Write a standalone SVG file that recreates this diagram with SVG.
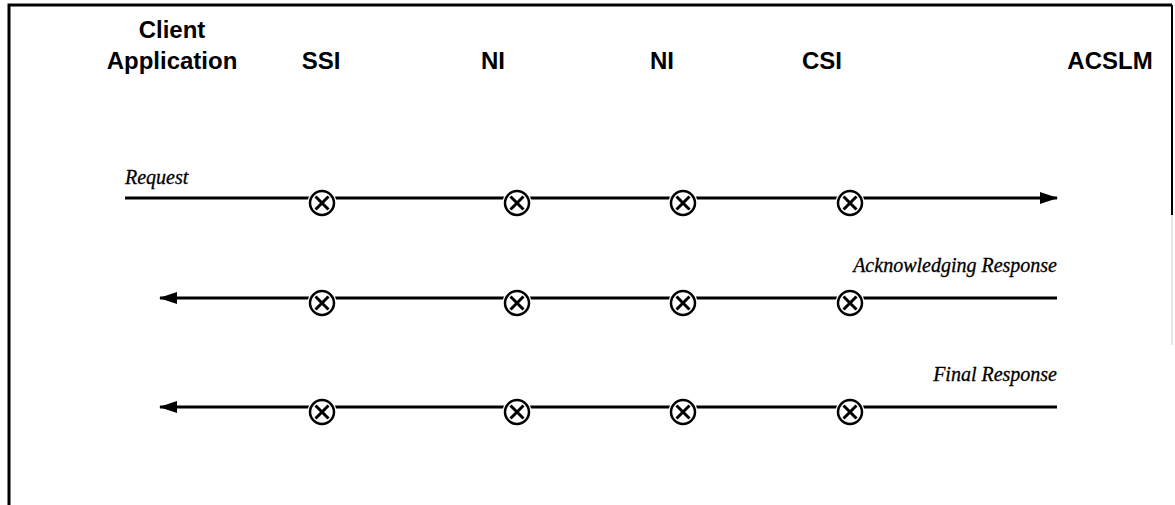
<svg xmlns="http://www.w3.org/2000/svg" width="1175" height="505" viewBox="0 0 1175 505">
<defs>
<style>
.hdr{font-family:"Liberation Sans",Arial,sans-serif;font-weight:bold;font-size:24px;fill:#000}
.lbl{font-family:"Liberation Serif","Times New Roman",serif;font-style:italic;font-size:20px;fill:#000;stroke:#000;stroke-width:0.3}
.ln{stroke:#000;stroke-width:3;fill:none}
.frame{stroke:#000;stroke-width:3;fill:none}
.xc{fill:#fff;stroke:#000;stroke-width:2.5}
.xx{stroke:#000;stroke-width:3;fill:none}
</style>
<marker id="ah" markerWidth="18" markerHeight="12" refX="17" refY="6" orient="auto" markerUnits="userSpaceOnUse">
<path d="M0,0 L18,6 L0,12 Z" fill="#000"/>
</marker>
<g id="x"><circle cx="0" cy="0" r="14.5" fill="#fff"/><circle class="xc" cx="0" cy="0" r="12"/><path class="xx" d="M-6.5,-6.5 L6.5,6.5 M-6.5,6.5 L6.5,-6.5"/></g>
</defs>
<rect width="1175" height="505" fill="#fff"/>
<g id="frame">
<path class="frame" d="M9,505 L9,5 L1172,5"/>
<path d="M1172,5 L1172,215" stroke="#000" stroke-width="2"/>
<path d="M1172,215 L1172,345" stroke="#ccc" stroke-width="1"/>
</g>
<g id="headers">
<text class="hdr" x="172" y="38" text-anchor="middle">Client</text>
<text id="client" class="hdr" x="172" y="69" text-anchor="middle">Application</text>
<text id="ssi" class="hdr" x="321" y="69" text-anchor="middle">SSI</text>
<text id="ni1" class="hdr" x="493" y="69" text-anchor="middle">NI</text>
<text id="ni2" class="hdr" x="662" y="69" text-anchor="middle">NI</text>
<text id="csi" class="hdr" x="822" y="69" text-anchor="middle">CSI</text>
<text id="acslm" class="hdr" x="1110" y="69" text-anchor="middle">ACSLM</text>
</g>
<g id="connectors">
<path class="ln" d="M125,198 L1057,198" marker-end="url(#ah)"/>
<path class="ln" d="M1057,298 L160,298" marker-end="url(#ah)"/>
<path class="ln" d="M1057,407 L160,407" marker-end="url(#ah)"/>
</g>
<g id="labels">
<text class="lbl" x="125" y="184">Request</text>
<text class="lbl" x="1057" y="272" text-anchor="end">Acknowledging  Response</text>
<text class="lbl" x="1057" y="381" text-anchor="end">Final  Response</text>
</g>
<g id="nodes">
<use id="n11" href="#x" x="322" y="203"/>
<use id="n12" href="#x" x="517" y="203"/>
<use id="n13" href="#x" x="683" y="203"/>
<use id="n14" href="#x" x="850" y="203"/>
<use id="n21" href="#x" x="322" y="303"/>
<use id="n22" href="#x" x="517" y="303"/>
<use id="n23" href="#x" x="683" y="303"/>
<use id="n24" href="#x" x="850" y="303"/>
<use id="n31" href="#x" x="322" y="412"/>
<use id="n32" href="#x" x="517" y="412"/>
<use id="n33" href="#x" x="683" y="412"/>
<use id="n34" href="#x" x="850" y="412"/>
</g>
</svg>
